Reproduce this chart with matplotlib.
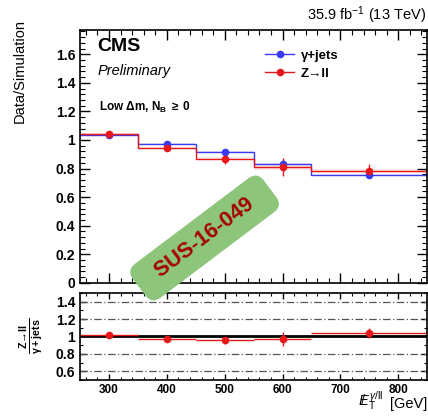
import numpy as np
import matplotlib
matplotlib.use("Agg")
import matplotlib.pyplot as plt
from matplotlib.ticker import MultipleLocator
from matplotlib.lines import Line2D

plt.rcParams["font.family"] = ["Liberation Sans", "DejaVu Sans"]
plt.rcParams["mathtext.fontset"] = "custom"
plt.rcParams["mathtext.rm"] = "Liberation Sans"
plt.rcParams["mathtext.it"] = "Liberation Sans:italic"
plt.rcParams["mathtext.bf"] = "Liberation Sans:bold"

# MET bins [GeV]
bin_edges = [250, 350, 450, 550, 650, 850]
bin_centers = [300, 400, 500, 600, 750]

# data/simulation, gamma+jets
gjets_val = [1.035, 0.972, 0.915, 0.834, 0.756]
gjets_err = [0.010, 0.012, 0.018, 0.025, 0.022]

# data/simulation, Z->ll
zll_val = [1.045, 0.942, 0.870, 0.811, 0.783]
zll_err = [0.012, 0.018, 0.037, 0.063, 0.050]

# double ratio Z->ll / gamma+jets
ratio_val = [1.020, 0.970, 0.957, 0.973, 1.040]
ratio_err = [0.015, 0.020, 0.040, 0.080, 0.060]

blue = "#3a3af0"
red = "#e8181a"

fig = plt.figure(figsize=(4.28, 4.16), dpi=100)
ax = fig.add_axes([0.187, 0.320, 0.811, 0.608])
rax = fig.add_axes([0.187, 0.0865, 0.811, 0.2095])


def step_hist(a, vals, errs, color):
    v = np.append(vals, vals[-1])
    e = np.append(errs, errs[-1])
    a.fill_between(bin_edges, v - e * 0.3, v + e * 0.3, step="post",
                   color=color, alpha=0.10, lw=0)
    a.step(bin_edges, v, where="post", color=color, lw=1.0)


step_hist(ax, gjets_val, gjets_err, blue)
step_hist(ax, zll_val, zll_err, red)

ax.errorbar(bin_centers, gjets_val, yerr=gjets_err, fmt="o", color=blue,
            ms=4.5, lw=1, capsize=0)
ax.errorbar(bin_centers, zll_val, yerr=zll_err, fmt="o", color=red,
            ms=4.5, lw=1, capsize=0)

ax.set_xlim(250, 850)
ax.set_ylim(0, 1.77)
ax.set_yticks([0, 0.2, 0.4, 0.6, 0.8, 1, 1.2, 1.4, 1.6])
ax.set_yticklabels(["0", "0.2", "0.4", "0.6", "0.8", "1", "1.2", "1.4", "1.6"])
ax.yaxis.set_minor_locator(MultipleLocator(0.04))
ax.xaxis.set_major_locator(MultipleLocator(100))
ax.xaxis.set_minor_locator(MultipleLocator(20))
ax.tick_params(labelbottom=False)

handles = [Line2D([], [], color=blue, marker="o", ms=4.5, lw=1),
           Line2D([], [], color=red, marker="o", ms=4.5, lw=1)]
ax.legend(handles, ["γ+jets", "Z→ll"], loc="upper left",
          bbox_to_anchor=(0.5, 0.97), frameon=False, handlelength=2.2,
          handletextpad=0.5, labelspacing=0.45,
          prop={"weight": "bold", "size": 9.5})

ax.text(0.05, 0.968, "CMS", transform=ax.transAxes, fontsize=14,
        fontweight="bold", va="top")
ax.text(0.05, 0.838, "Preliminary", transform=ax.transAxes, fontsize=10.5,
        style="italic", va="center")
ax.text(0.055, 0.692, r"Low $\mathbf{\Delta}$m, N$_{\mathbf{B}}$ $\mathbf{\geq}$ 0",
        transform=ax.transAxes, fontsize=8.5, fontweight="bold", va="center")

fig.text(0.995, 0.963, r"35.9 fb$^{-1}$ (13 TeV)", ha="right", va="center",
         fontsize=10.5)
fig.text(0.047, 0.83, "Data/Simulation", rotation=90, ha="center",
         va="center", fontsize=10.5)

# ratio panel
for yl in [0.6, 0.8, 1.2, 1.4]:
    rax.axhline(yl, color="#555555", lw=0.9, ls=(0, (6, 2, 1, 2)))
rax.axhline(1.0, color="black", lw=2)
rax.errorbar(bin_centers, ratio_val, yerr=ratio_err,
             xerr=[[c - lo for c, lo in zip(bin_centers, bin_edges[:-1])],
                   [hi - c for c, hi in zip(bin_centers, bin_edges[1:])]],
             fmt="o", color=red, ms=4.5, lw=1, capsize=0)
rax.set_xlim(250, 850)
rax.set_ylim(0.5, 1.5)
rax.set_yticks([0.6, 0.8, 1, 1.2, 1.4])
rax.set_yticklabels(["0.6", "0.8", "1", "1.2", "1.4"])
rax.yaxis.set_minor_locator(MultipleLocator(0.1))
rax.xaxis.set_major_locator(MultipleLocator(100))
rax.xaxis.set_minor_locator(MultipleLocator(20))

fig.text(0.073, 0.193, r"$\frac{\mathbf{Z\!\rightarrow\! ll}}{\mathbf{\gamma+jets}}$",
         rotation=90, ha="center", va="center", fontsize=11)
# x axis title: MET symbol and unit as two pieces
fig.text(0.895, 0.008, r"$\not{\!\!E}_{\mathrm{T}}^{\gamma/\mathrm{ll}}$",
         ha="right", va="bottom", fontsize=10.5)
fig.text(0.998, 0.012, "[GeV]", ha="right", va="bottom", fontsize=10.5)

for a in (ax, rax):
    a.tick_params(which="both", direction="in", top=True, right=True,
                  labelsize=10)
    a.tick_params(which="major", length=7, width=1)
    a.tick_params(which="minor", length=3.5, width=0.8)
    for lab in a.get_xticklabels() + a.get_yticklabels():
        lab.set_fontweight("bold")
    for s in a.spines.values():
        s.set_linewidth(1.2)
rax.tick_params(which="major", length=4)
rax.tick_params(which="minor", length=2)
rax.tick_params(axis="x", labelsize=8.5, pad=3)

# analysis tag
fig.text(0.478, 0.428, "  SUS-16-049  ", rotation=37, ha="center",
         va="center", fontsize=15.5, fontweight="bold", color="#a50000",
         rotation_mode="anchor",
         bbox=dict(boxstyle="round,pad=0.5,rounding_size=0.5",
                   facecolor="#8dc57a", edgecolor="none"))

fig.savefig("out.png", dpi=100)
